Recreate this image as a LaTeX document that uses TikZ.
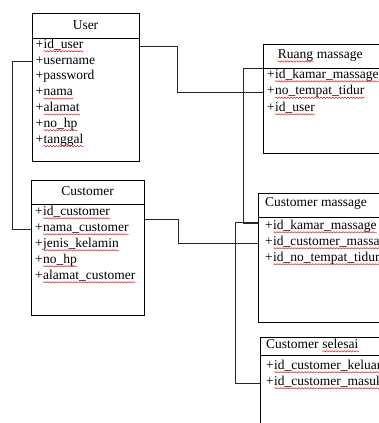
\documentclass[tikz,border=0pt]{standalone}
\usepackage{fontspec}
\setmainfont{Liberation Serif}
\usepackage{tikz}
\usetikzlibrary{decorations.pathmorphing}

% red wavy line under a word
\newcommand\sw[1]{\tikz[baseline=(w.base)]{\node[inner sep=0pt, anchor=base] (w) {#1};
	\draw[red!85!black, line width=0.4pt, decorate, decoration={snake, amplitude=0.7pt, segment length=3pt}]
		([yshift=-3pt]w.base west) -- ([yshift=-3pt]w.base east);}}

\tikzset{
  box/.style = {draw, line width = 0.8pt, inner sep = 0pt, anchor = north west},
  attr/.style = {inner sep = 0pt, anchor = mid west, font = \fontsize{13.5}{16}\selectfont},
  title/.style = {inner sep = 0pt, font = \fontsize{13.5}{16}\selectfont},
  conn/.style = {line width = 0.8pt, black!85}
}

\begin{document}
\begin{tikzpicture}[x = 1pt, y = -1pt]
\clip (0,0) rectangle (379,423);

\node[box, minimum width = 107pt, minimum height = 148pt] (User) at (32,13) {};
\node[box, minimum width = 113pt, minimum height = 135pt] (Cust) at (31,180) {};
\node[box, minimum width = 127pt, minimum height = 109pt] (Ruang) at (263,44) {};
\node[box, minimum width = 132pt, minimum height = 129pt] (CM) at (258,193) {};
\node[box, minimum width = 130pt, minimum height = 103pt] (CS) at (260,337) {};

\draw[line width = 0.8pt] ([yshift=-25pt]User.north west) -- ([yshift=-25pt]User.north east);
\draw[line width = 0.8pt] ([yshift=-24pt]Cust.north west) -- ([yshift=-24pt]Cust.north east);
\draw[line width = 0.8pt] ([yshift=-24pt]Ruang.north west) -- ([yshift=-24pt]Ruang.north east);
\draw[line width = 0.8pt] ([yshift=-24pt]CM.north west) -- ([yshift=-24pt]CM.north east);
\draw[line width = 0.8pt] ([yshift=-18pt]CS.north west) -- ([yshift=-18pt]CS.north east);

\node[title] (userT) at (85.5,25) {User};
\node[title] (custT) at (87.5,191) {Customer};
\node[title] (ruangT) at (320,56) {\sw{Ruang} massage};
\node[title, anchor = mid west] (cmT) at (265,204) {Customer massage};
\node[title, anchor = mid west] (csT) at (266,346) {Customer \sw{selesai}};

\foreach \t [count=\i] in {\sw{id\_user}, username, password, \sw{nama}, \sw{alamat}, \sw{no\_hp}, \sw{tanggal}}
	\node[attr] (u\i) at (35.5, {46+15.8*(\i-1)}) {+\t};

\foreach \t [count=\i] in {\sw{id\_customer}, \sw{nama\_customer}, \sw{jenis\_kelamin}, \sw{no\_hp}, \sw{alamat\_customer}}
	\node[attr] (c\i) at (35, {213+16*(\i-1)}) {+\t};

\foreach \t [count=\i] in {\sw{id\_kamar\_massage}, \sw{no\_tempat\_tidur}, \sw{id\_user}}
	\node[attr] (r\i) at (267, {76+16.5*(\i-1)}) {+\t};

\foreach \t [count=\i] in {\sw{id\_kamar\_massage}, \sw{id\_customer\_massage}, \sw{id\_no\_tempat\_tidur}}
	\node[attr] (m\i) at (265, {227+16*(\i-1)}) {+\t};

\foreach \t [count=\i] in {\sw{id\_customer\_keluar}, \sw{id\_customer\_masuk}}
	\node[attr] (s\i) at (266, {367+16*(\i-1)}) {+\t};

\draw[conn] (u1.mid -| User.east) -- ++(38,0) |- (r2.mid -| Ruang.west);
\draw[conn] (u2.mid -| User.west) -- ++(-20,0) |- (c2.mid -| Cust.west);
\draw[conn] ([yshift=-6pt]c1.mid -| Cust.east) -- ++(34,0) |- (m2.mid -| CM.west);
\draw[conn] ([yshift=-24pt]Ruang.north west) -- ++(-20,0) |- ([yshift=4pt]m1.mid -| CM.west);
\draw[conn] ([yshift=5pt]m1.mid -| CM.west) -- ++(-23,0) |- (s2.mid -| CS.west);
\end{tikzpicture}
\end{document}
